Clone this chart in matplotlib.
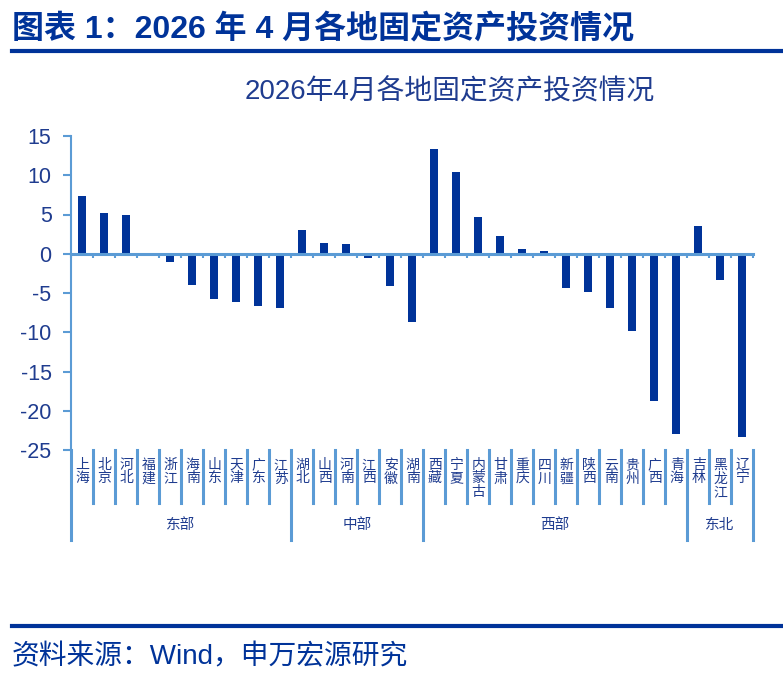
import matplotlib
matplotlib.use("Agg")
import matplotlib.pyplot as plt
from matplotlib.lines import Line2D
import matplotlib.transforms as mtransforms

plt.rcParams['font.family'] = ['Liberation Sans', 'Noto Sans CJK SC', 'DejaVu Sans']

provinces = ['上海', '北京', '河北', '福建', '浙江', '海南', '山东', '天津', '广东', '江苏',
             '湖北', '山西', '河南', '江西', '安徽', '湖南',
             '西藏', '宁夏', '内蒙古', '甘肃', '重庆', '四川', '新疆', '陕西', '云南', '贵州', '广西', '青海',
             '吉林', '黑龙江', '辽宁']
values = [7.35, 5.2, 5.0, 0.0, -1.05, -4.0, -5.8, -6.15, -6.65, -6.9,
          3.05, 1.4, 1.2, -0.55, -4.15, -8.7,
          13.35, 10.45, 4.65, 2.3, 0.65, 0.3, -4.35, -4.9, -6.9, -9.8, -18.8, -23.0,
          3.55, -3.3, -23.35]
regions = ['东部', '中部', '西部', '东北']
region_sizes = [10, 6, 12, 3]

header = '图表 1：2026 年 4 月各地固定资产投资情况'
chart_title = '2026年4月各地固定资产投资情况'
source = '资料来源：Wind，申万宏源研究'
yticks = [15, 10, 5, 0, -5, -10, -15, -20, -25]

NAVY = '#003399'
TEXT = '#1F3C8F'
LIGHT = '#5B9BD5'

W, H = 783, 678
fig = plt.figure(figsize=(W / 100, H / 100), dpi=100)
ax = fig.add_axes([71 / W, 1 - 450 / H, (753 - 71) / W, 314 / H])

n = len(provinces)
x = list(range(n))
ax.bar(x, values, width=0.32, color=NAVY, zorder=2)
ax.set_xlim(-0.5, n - 0.5)
ax.set_ylim(-25, 15)
ax.set_yticks(yticks)
ax.set_yticklabels([str(v) for v in yticks], fontsize=15.5, color=TEXT)
ax.tick_params(axis='y', length=6, width=1.5, color=LIGHT, pad=8)

for s in ['top', 'right']:
    ax.spines[s].set_visible(False)
ax.spines['left'].set_color(LIGHT)
ax.spines['left'].set_linewidth(1.5)
ax.spines['bottom'].set_position(('data', 0))
ax.spines['bottom'].set_color(LIGHT)
ax.spines['bottom'].set_linewidth(2.2)
ax.spines['bottom'].set_zorder(3)
ax.set_xticks([i - 0.5 for i in range(n + 1)])
ax.set_xticklabels([])
ax.tick_params(axis='x', length=3, width=1.5, color=LIGHT, direction='out')

trans = mtransforms.blended_transform_factory(ax.transData, ax.transAxes)
short_bot = -53 / 314
long_bot = -90 / 314

# group boundaries
bounds = [0]
for s in region_sizes:
    bounds.append(bounds[-1] + s)
group_edges = set(b - 0.5 for b in bounds)

for i in range(n + 1):
    b = i - 0.5
    bot = long_bot if b in group_edges else short_bot
    ax.add_line(Line2D([b, b], [0, bot], transform=trans, color=LIGHT, lw=2.2, clip_on=False))

for i, name in enumerate(provinces):
    ax.text(i + 0.03, -8 / 314, '\n'.join(name), transform=trans, ha='center', va='top',
            fontsize=10, color=TEXT, linespacing=0.95, family=['Noto Sans CJK SC'])

for k, r in enumerate(regions):
    c = (bounds[k] + bounds[k + 1] - 1) / 2
    ax.text(c, -75 / 314, r, transform=trans, ha='center', va='center',
            fontsize=10.5, color=TEXT, family=['Noto Sans CJK SC'])

# titles & decorations
fig.text(12 / W, 1 - 29 / H, header, ha='left', va='center', fontsize=23, fontweight='bold', color=NAVY)
fig.add_artist(Line2D([12 / W, 1], [1 - 50.5 / H] * 2, color=NAVY, lw=3))
fig.text(450 / W, 1 - 92 / H, chart_title, ha='center', va='center', fontsize=20, color=TEXT)
fig.add_artist(Line2D([12 / W, 1], [1 - 626 / H] * 2, color=NAVY, lw=3))
fig.text(12 / W, 1 - 657 / H, source, ha='left', va='center', fontsize=20, color=NAVY)

fig.savefig('out.png', dpi=100)
